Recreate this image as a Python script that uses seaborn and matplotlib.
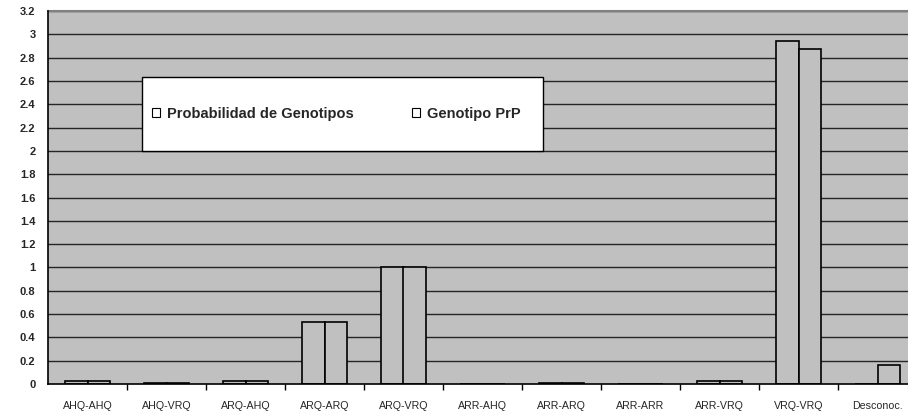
import pandas as pd
import numpy as np
import matplotlib
matplotlib.use('Agg')
import matplotlib.pyplot as plt
import seaborn as sns
from matplotlib.patches import Patch, Rectangle

genotipos = ['AHQ-AHQ', 'AHQ-VRQ', 'ARQ-AHQ', 'ARQ-ARQ', 'ARQ-VRQ', 'ARR-AHQ',
             'ARR-ARQ', 'ARR-ARR', 'ARR-VRQ', 'VRQ-VRQ', 'Desconoc.']
prob_genotipos = [0.03, 0.012, 0.03, 0.53, 1.0, 0.0, 0.012, 0.0, 0.03, 2.94, 0.0]
genotipo_prp = [0.03, 0.012, 0.03, 0.53, 1.0, 0.0, 0.012, 0.0, 0.03, 2.875, 0.163]
series = ['Probabilidad de Genotipos', 'Genotipo PrP']

df = pd.DataFrame({
    'genotipo': genotipos * 2,
    'valor': prob_genotipos + genotipo_prp,
    'serie': [series[0]] * len(genotipos) + [series[1]] * len(genotipos),
})

sns.set_style('white')
plt.rcParams['font.family'] = ['Liberation Sans', 'DejaVu Sans']

fig = plt.figure(figsize=(9.08, 4.12), dpi=100)
ax = fig.add_axes([48 / 908, 1 - 384 / 412, 869 / 908, 373 / 412])
ax.set_facecolor('#c0c0c0')

# grid lines under the bars
yticks = np.round(np.arange(0, 3.21, 0.2), 1)
for y in yticks[1:]:
    ax.axhline(y, color='#262626', lw=1, zorder=0)

sns.barplot(data=df, x='genotipo', y='valor', hue='serie', order=genotipos,
            hue_order=series, palette=['#c0c0c0', '#c0c0c0'], width=0.58,
            edgecolor='black', linewidth=1.2, legend=False, ax=ax, zorder=2)

ax.set_xlim(-0.5, len(genotipos) - 0.5)
ax.set_ylim(0, 3.2)
ax.set_yticks(yticks)
ax.set_yticklabels(['%g' % v for v in yticks])
ax.set_xlabel('')
ax.set_ylabel('')

for s in ['top', 'right']:
    ax.spines[s].set_visible(False)
for s in ['left', 'bottom']:
    ax.spines[s].set_color('black')
    ax.spines[s].set_linewidth(1.2)
ax.axhline(3.2, color='#808080', lw=1.5, zorder=1, clip_on=False)

ax.tick_params(axis='y', which='major', direction='out', length=4, width=1,
               color='black', pad=5, labelsize=8)
for lab in ax.get_yticklabels():
    lab.set_fontweight('bold')
ax.set_xticks(np.arange(0.5, len(genotipos) - 0.5), minor=True)
ax.tick_params(axis='x', which='major', length=0, pad=12, labelsize=7.7)
ax.tick_params(axis='x', which='minor', direction='out', length=4, width=1,
               color='black', bottom=True)

# legend box
box = Rectangle((142 / 908, 1 - 151 / 412), (543 - 142) / 908, (151 - 77) / 412,
                transform=fig.transFigure, facecolor='white', edgecolor='black',
                lw=1, zorder=5)
fig.patches.append(box)
handles = [Patch(facecolor='white', edgecolor='black', lw=0.8) for _ in series]
leg = fig.legend(handles, series, loc='center left',
                 bbox_to_anchor=(145 / 908, 1 - 114 / 412), ncol=2, frameon=False,
                 borderpad=0, handlelength=0.55, handleheight=0.55,
                 handletextpad=0.48, columnspacing=4.0,
                 prop={'weight': 'bold', 'size': 10.5})
leg.set_zorder(6)

plt.savefig('out.png', dpi=100)
